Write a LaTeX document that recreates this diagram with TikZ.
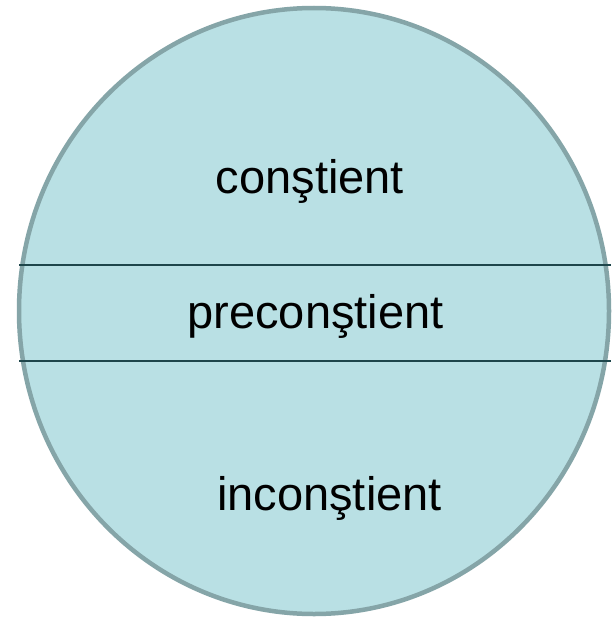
\documentclass[tikz,border=0pt]{standalone}
\usepackage{fontspec}
\setmainfont{Liberation Sans}
\definecolor{fillc}{RGB}{185,224,228}
\definecolor{rimc}{RGB}{133,165,168}
\definecolor{linec}{RGB}{30,70,75}
\tikzset{
  label text/.style={anchor=base, inner sep=0pt, font=\fontsize{47}{52}\selectfont, text=black},
  divider/.style={draw=linec, line width=2.5pt}
}
\begin{document}
\begin{tikzpicture}[x=1pt,y=-1pt]
\useasboundingbox (0,0) rectangle (611,618);
\fill[white] (0,0) rectangle (611,618);
\draw[fill=fillc, draw=rimc, line width=4.5pt] (314,311) ellipse [x radius=295, y radius=303];
\coordinate (l1a) at (19,265);
\coordinate (l1b) at (611,265);
\coordinate (l2a) at (19,361);
\coordinate (l2b) at (611,361);
\draw[divider] (l1a) -- (l1b);
\draw[divider] (l2a) -- (l2b);
\node[label text] (c) at (310,193) {conştient};
\node[label text] (p) at (315.5,328) {preconştient};
\node[label text] (i) at (329.5,510) {inconştient};
\end{tikzpicture}
\end{document}
